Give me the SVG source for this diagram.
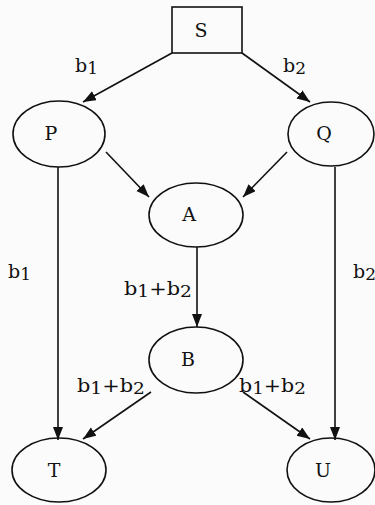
<svg xmlns="http://www.w3.org/2000/svg" width="375" height="505" viewBox="0 0 375 505">
  <style>
    .node { fill: none; stroke: #111; stroke-width: 1.6; }
    .edge { fill: none; stroke: #111; stroke-width: 1.6; }
    .name { font-family: "DejaVu Serif", "Liberation Serif", serif; font-size: 19px; fill: #111; }
    .lbl { font-family: "DejaVu Serif", "Liberation Serif", serif; font-size: 19px; fill: #111; }
    .sub { font-size: 17px; }
  </style>
  <defs>
    <marker id="arrow" markerUnits="userSpaceOnUse" markerWidth="14" markerHeight="12" refX="13" refY="5" orient="auto">
      <path d="M0,0 L13,5 L0,10 z" fill="#111"/>
    </marker>
  </defs>
  <rect width="375" height="505" fill="#fbfbfb"/>

  <g id="connectors">
    <line class="edge" x1="172" y1="53" x2="83" y2="102" marker-end="url(#arrow)"/>
    <line class="edge" x1="242" y1="53" x2="310" y2="102" marker-end="url(#arrow)"/>
    <line class="edge" x1="106" y1="152" x2="149" y2="197" marker-end="url(#arrow)"/>
    <line class="edge" x1="287" y1="152" x2="243" y2="197" marker-end="url(#arrow)"/>
    <line class="edge" x1="58" y1="167" x2="58" y2="440" marker-end="url(#arrow)"/>
    <line class="edge" x1="335" y1="167" x2="335" y2="440" marker-end="url(#arrow)"/>
    <line class="edge" x1="197" y1="247" x2="197" y2="327" marker-end="url(#arrow)"/>
    <line class="edge" x1="151" y1="392" x2="83" y2="439" marker-end="url(#arrow)"/>
    <line class="edge" x1="243" y1="392" x2="310" y2="439" marker-end="url(#arrow)"/>
  </g>

  <g id="edge-labels">
    <text class="lbl" x="75" y="72">b<tspan class="sub" dy="2">1</tspan></text>
    <text class="lbl" x="283" y="72">b<tspan class="sub" dy="2">2</tspan></text>
    <text class="lbl" x="8" y="278">b<tspan class="sub" dy="2">1</tspan></text>
    <text class="lbl" x="353" y="278">b<tspan class="sub" dy="2">2</tspan></text>
    <text class="lbl" x="124" y="295" textLength="68" lengthAdjust="spacingAndGlyphs">b<tspan class="sub" dy="2">1</tspan><tspan dy="-2">+b</tspan><tspan class="sub" dy="2">2</tspan></text>
    <text class="lbl" x="77" y="392" textLength="68" lengthAdjust="spacingAndGlyphs">b<tspan class="sub" dy="2">1</tspan><tspan dy="-2">+b</tspan><tspan class="sub" dy="2">2</tspan></text>
    <text class="lbl" x="239" y="392" textLength="67" lengthAdjust="spacingAndGlyphs">b<tspan class="sub" dy="2">1</tspan><tspan dy="-2">+b</tspan><tspan class="sub" dy="2">2</tspan></text>
  </g>

  <g id="S">
    <rect class="node" x="172" y="7" width="70" height="46"/>
    <text class="name" x="201" y="37" text-anchor="middle">S</text>
  </g>
  <g id="P">
    <ellipse class="node" cx="59" cy="134" rx="46" ry="33"/>
    <text class="name" x="51" y="140" text-anchor="middle">P</text>
  </g>
  <g id="Q">
    <ellipse class="node" cx="331" cy="134" rx="43" ry="32"/>
    <text class="name" x="324" y="140" text-anchor="middle">Q</text>
  </g>
  <g id="A">
    <ellipse class="node" cx="196" cy="215" rx="47" ry="32"/>
    <text class="name" x="189" y="221" text-anchor="middle">A</text>
  </g>
  <g id="B">
    <ellipse class="node" cx="196" cy="360" rx="47" ry="33"/>
    <text class="name" x="188" y="366" text-anchor="middle">B</text>
  </g>
  <g id="T">
    <ellipse class="node" cx="59" cy="470" rx="47" ry="32"/>
    <text class="name" x="54" y="477" text-anchor="middle">T</text>
  </g>
  <g id="U">
    <ellipse class="node" cx="331" cy="470" rx="44" ry="32"/>
    <text class="name" x="323" y="477" text-anchor="middle">U</text>
  </g>
</svg>
